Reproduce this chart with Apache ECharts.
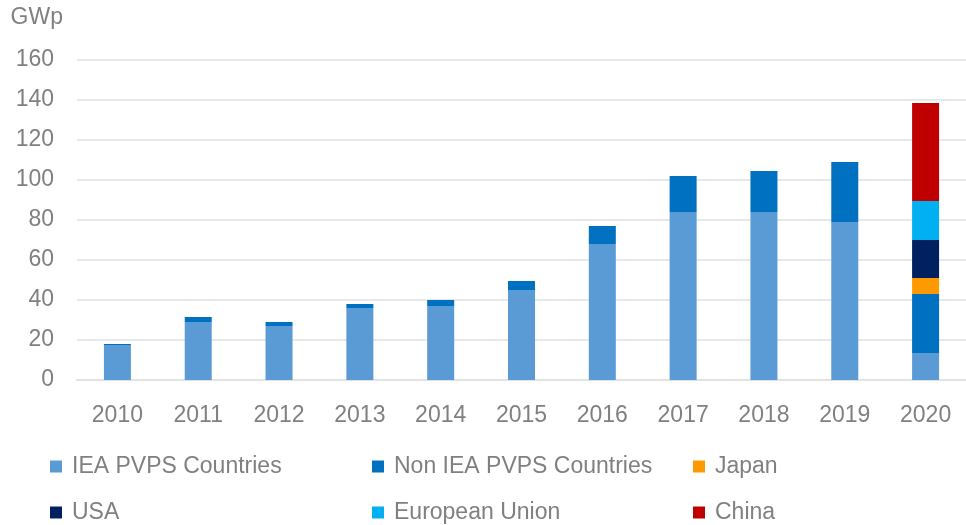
<!DOCTYPE html>
<html>
<head>
<meta charset="utf-8">
<title>PV installations</title>
<script src="https://cdn.jsdelivr.net/npm/echarts@6/dist/echarts.min.js"></script>
<style>
  html, body { margin: 0; padding: 0; background: #ffffff; }
  #chart { width: 966px; height: 525px; }
</style>
</head>
<body>
<div id="chart"></div>
<script>
// Annual PV installations (GWp)
const years = ['2010', '2011', '2012', '2013', '2014', '2015', '2016', '2017', '2018', '2019', '2020'];
const ieaPvps    = [17.5, 29, 27, 36, 37, 45, 68, 84, 84, 79, 13.5];
const nonIeaPvps = [0.5, 2.5, 2, 2, 3, 4.5, 9, 18, 20.5, 30, 29.5];
const japan      = [null, null, null, null, null, null, null, null, null, null, 8];
const usa        = [null, null, null, null, null, null, null, null, null, null, 19];
const eu         = [null, null, null, null, null, null, null, null, null, null, 19.5];
const china      = [null, null, null, null, null, null, null, null, null, null, 49];
const yTicks = { min: 0, max: 160, interval: 20 };

const seriesDefs = [
  { name: 'IEA PVPS Countries', data: ieaPvps, color: '#5b9bd5' },
  { name: 'Non IEA PVPS Countries', data: nonIeaPvps, color: '#0070c0' },
  { name: 'Japan', data: japan, color: '#ff9900' },
  { name: 'USA', data: usa, color: '#002060' },
  { name: 'European Union', data: eu, color: '#00b0f0' },
  { name: 'China', data: china, color: '#c00000' }
];

const textColor = '#808080';
const font = 'Liberation Sans, Arial, sans-serif';
const fontSize = 23;

// legend placement: three columns, two rows
const legendPos = [
  { name: 'IEA PVPS Countries', left: 50, top: 455 },
  { name: 'Non IEA PVPS Countries', left: 372, top: 455 },
  { name: 'Japan', left: 693, top: 455 },
  { name: 'USA', left: 50, top: 501 },
  { name: 'European Union', left: 372, top: 501 },
  { name: 'China', left: 693, top: 501 }
];

const chart = echarts.init(document.getElementById('chart'), null, { renderer: 'canvas' });
chart.setOption({
  backgroundColor: '#ffffff',
  animation: false,
  grid: { left: 77, top: 60, bottom: 145, width: 893 },
  legend: legendPos.map(p => ({
    data: [p.name],
    left: p.left,
    top: p.top,
    icon: 'rect',
    itemWidth: 12,
    itemHeight: 12,
    padding: 0,
    textStyle: { color: textColor, fontSize: fontSize, fontFamily: font, padding: [0, 0, 0, 5] }
  })),
  xAxis: {
    type: 'category',
    data: years,
    axisTick: { show: false },
    axisLine: { lineStyle: { color: '#e2e2e2', width: 2 } },
    axisLabel: { color: textColor, fontSize: fontSize, fontFamily: font, margin: 24 }
  },
  yAxis: {
    type: 'value',
    min: yTicks.min,
    max: yTicks.max,
    interval: yTicks.interval,
    name: 'GWp',
    nameLocation: 'end',
    nameGap: 42,
    nameTextStyle: { color: textColor, fontSize: fontSize, fontFamily: font, align: 'right', verticalAlign: 'middle', padding: [0, 14, 0, 0] },
    axisLine: { show: false },
    axisTick: { show: false },
    axisLabel: { color: textColor, fontSize: fontSize, fontFamily: font, margin: 23 },
    splitLine: { lineStyle: { color: '#e8e8e8', width: 2 } }
  },
  series: seriesDefs.map(s => ({
    name: s.name,
    type: 'bar',
    stack: 'total',
    barWidth: 27,
    data: s.data,
    itemStyle: { color: s.color }
  }))
});
</script>
</body>
</html>
